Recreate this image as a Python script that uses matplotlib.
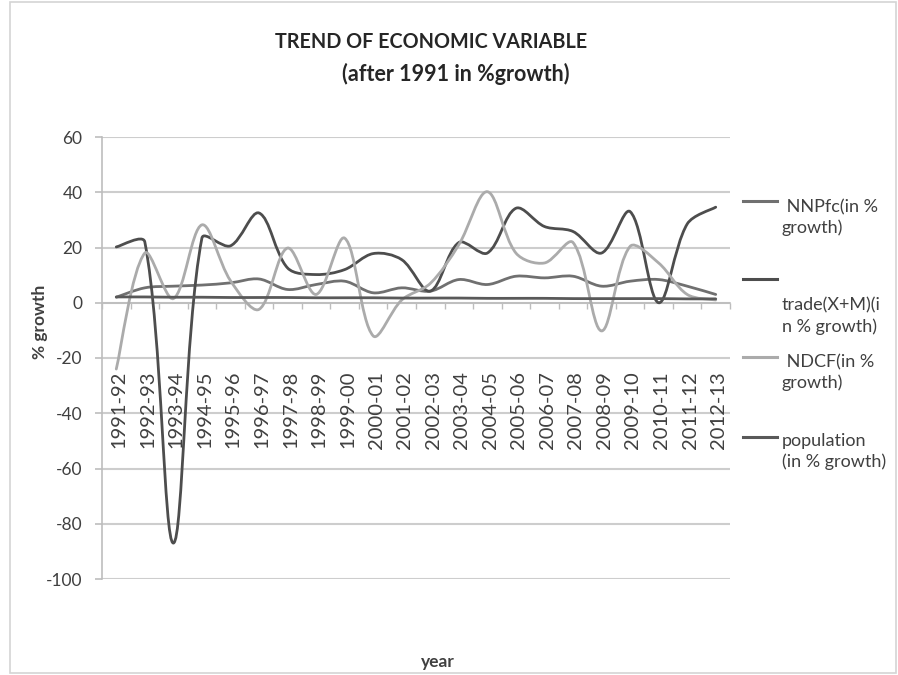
import matplotlib
matplotlib.use("Agg")
import numpy as np
import matplotlib.pyplot as plt
import matplotlib.transforms as mtransforms
from matplotlib.path import Path
from matplotlib.patches import PathPatch, Rectangle
from matplotlib.lines import Line2D

plt.rcParams['font.family'] = ['Lato', 'DejaVu Sans']
plt.rcParams['axes.unicode_minus'] = False

years = ["1991-92", "1992-93", "1993-94", "1994-95", "1995-96", "1996-97",
         "1997-98", "1998-99", "1999-00", "2000-01", "2001-02", "2002-03",
         "2003-04", "2004-05", "2005-06", "2006-07", "2007-08", "2008-09",
         "2009-10", "2010-11", "2011-12", "2012-13"]

nnpfc = [2.0, 5.4, 6.0, 6.4, 7.2, 8.6, 4.8, 6.6, 7.8, 3.6, 5.4, 4.2,
         8.4, 6.6, 9.6, 9.0, 9.6, 6.0, 7.8, 8.4, 6.0, 3.0]
trade = [20.2, 22.0, -87.0, 23.4, 20.6, 32.5, 12.6, 10.2, 12.0, 17.8, 15.6, 4.2,
         21.8, 18.0, 34.2, 27.6, 25.8, 18.0, 33.0, 0.0, 28.5, 34.6]
ndcf = [-24.0, 18.0, 1.5, 28.2, 8.0, -2.4, 19.8, 3.0, 23.4, -12.0, 1.0, 7.0,
        21.0, 40.2, 18.0, 14.4, 21.8, -10.2, 20.4, 14.4, 3.0, 1.0]
population = [2.1, 2.1, 2.0, 2.0, 1.9, 1.9, 1.9, 1.8, 1.8, 1.8, 1.7, 1.7,
              1.7, 1.6, 1.6, 1.6, 1.5, 1.5, 1.5, 1.5, 1.4, 1.4]

series = [
    ("NNPfc", nnpfc, "#707070"),
    ("trade", trade, "#4d4d4d"),
    ("NDCF", ndcf, "#ababab"),
    ("population", population, "#595959"),
]


def smooth_path(ax, xs, ys):
    # smoothed line like Excel: bezier through the points, tangents
    # weighted by the on-screen length of the neighbouring segments
    pts = ax.transData.transform(np.column_stack([xs, ys]))
    n = len(pts)
    verts = [pts[0]]
    codes = [Path.MOVETO]
    for i in range(n - 1):
        p0 = pts[i - 1] if i > 0 else pts[i]
        p1 = pts[i]
        p2 = pts[i + 1]
        p3 = pts[i + 2] if i + 2 < n else pts[i + 1]
        d_a = np.hypot(*(p1 - p0))
        d_b = np.hypot(*(p2 - p1))
        w = d_b / (d_a + d_b) if i > 0 else 0.5
        c1 = p1 + (p2 - p0) * w / 3
        d_c = np.hypot(*(p3 - p2))
        w = d_b / (d_b + d_c) if i + 2 < n else 0.5
        c2 = p2 - (p3 - p1) * w / 3
        verts += [c1, c2, p2]
        codes += [Path.CURVE4] * 3
    verts = ax.transData.inverted().transform(np.array(verts))
    return Path(verts, codes)


W, H = 898, 675
fig = plt.figure(figsize=(W / 100, H / 100), dpi=100)
fig.patch.set_facecolor("white")

ax = fig.add_axes([102 / W, 1 - 579 / H, 628 / W, (579 - 137) / H])
ax.set_xlim(-0.5, len(years) - 0.5)
ax.set_ylim(-100, 60)

x = list(range(len(years)))
for name, vals, col in series:
    ax.add_patch(PathPatch(smooth_path(ax, x, vals), facecolor="none",
                           edgecolor=col, lw=2.0, capstyle="round",
                           joinstyle="round", zorder=3))

ax.set_yticks(range(-100, 61, 20))
ax.yaxis.grid(True, color="#cdcdcd", lw=1.5, zorder=0)
ax.set_axisbelow(True)
for s in ["top", "right"]:
    ax.spines[s].set_visible(False)
ax.spines["left"].set_color("#bdbdbd")
ax.spines["left"].set_linewidth(1.2)
ax.spines["bottom"].set_position(("data", 0))
ax.spines["bottom"].set_color("#bdbdbd")
ax.spines["bottom"].set_linewidth(1.2)

ax.tick_params(axis="y", direction="out", length=5, width=1.2, color="#bdbdbd",
               labelsize=12.5, labelcolor="#404040", pad=9)
ax.set_xticks([i - 0.5 for i in range(len(years) + 1)])
ax.set_xticklabels([])
ax.tick_params(axis="x", direction="out", length=4, width=1, color="#bdbdbd")

# category labels hang well below the zero axis, as in the original
lab_tr = mtransforms.blended_transform_factory(ax.transData, ax.transAxes)
for i, yr in enumerate(years):
    ax.text(i + 0.1, (579 - 371) / 442, yr, transform=lab_tr, rotation=90,
            ha="center", va="top", fontsize=14.5, color="#404040")

# titles and axis names
fig.text(431 / W, 1 - 42 / H, "TREND OF ECONOMIC VARIABLE", ha="center",
         va="center", fontsize=14.2, fontweight="bold", color="#262626")
fig.text(456 / W, 1 - 74 / H, "(after 1991 in %growth)", ha="center",
         va="center", fontsize=15.5, fontweight="bold", color="#262626")
fig.text(40 / W, 1 - 322 / H, "% growth", rotation=90, ha="center",
         va="center", fontsize=12.5, fontweight="bold", color="#404040")
fig.text(438 / W, 1 - 662 / H, "year", ha="center", va="center",
         fontsize=12.5, fontweight="bold", color="#404040")

# legend drawn by hand to keep Excel's odd wrapping
legend = [
    (201, "#707070", 208, " NNPfc(in %\ngrowth)"),
    (279, "#4d4d4d", 286, "\ntrade(X+M)(i\nn % growth)"),
    (357, "#ababab", 363, " NDCF(in %\ngrowth)"),
    (437, "#595959", 442, "population\n(in % growth)"),
]
for ly, col, ty, label in legend:
    fig.add_artist(Line2D([743 / W, 777 / W], [1 - ly / H, 1 - ly / H],
                          color=col, lw=2.2, transform=fig.transFigure))
    fig.text(782 / W, 1 - (ty - 9) / H, label, ha="left", va="top",
             fontsize=13, color="#404040", linespacing=1.35)

fig.add_artist(Rectangle((10 / W, 2 / H), 886 / W, 671 / H, fill=False,
                         edgecolor="#d4d4d4", lw=1.2,
                         transform=fig.transFigure))

fig.savefig("out.png", dpi=100, facecolor="white")
